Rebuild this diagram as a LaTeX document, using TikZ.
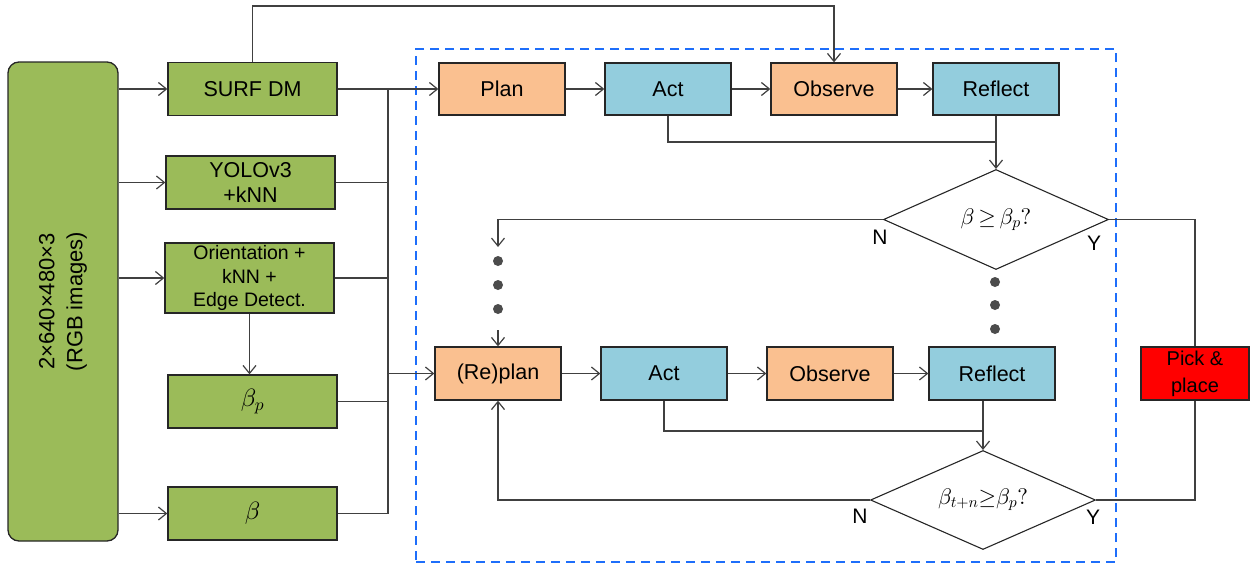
\documentclass[tikz,border=0pt]{standalone}
\usepackage{fontspec}
\setmainfont{Liberation Sans}
\usetikzlibrary{arrows.meta,shapes.geometric,calc}
% let the math fonts scale freely to the large node sizes
\DeclareFontFamily{OML}{cmm}{\skewchar\font127 }
\DeclareFontShape{OML}{cmm}{m}{it}{<->cmmi10}{}
\DeclareFontFamily{OMS}{cmsy}{\skewchar\font48 }
\DeclareFontShape{OMS}{cmsy}{m}{n}{<->cmsy10}{}
\DeclareFontFamily{OT1}{cmr}{\hyphenchar\font45 }
\DeclareFontShape{OT1}{cmr}{m}{n}{<->cmr10}{}

\definecolor{boxgreen}{HTML}{9BBB59}
\definecolor{boxpeach}{HTML}{FAC090}
\definecolor{boxblue}{HTML}{93CDDD}
\definecolor{boxred}{HTML}{FF0000}
\definecolor{frameblue}{RGB}{30,110,250}
\definecolor{wire}{HTML}{404040}

\begin{document}
\begin{tikzpicture}[x=1pt,y=-1pt,
  every node/.style={font=\fontsize{21.5}{25.7}\selectfont},
  blk/.style={draw=black!85, line width=1.3pt, minimum width=126pt, minimum height=52pt, inner sep=0pt, align=center},
  feat/.style={blk, fill=boxgreen, minimum width=169pt, minimum height=53pt},
  mathfeat/.style={feat, font=\fontsize{25}{28}\selectfont},
  peachbox/.style={blk, fill=boxpeach},
  cyanbox/.style={blk, fill=boxblue},
  decision/.style={diamond, aspect=2.25, draw=black!85, line width=1.1pt, inner sep=0pt, minimum width=225pt, minimum height=100pt, fill=white, font=\fontsize{22.5}{26}\selectfont},
  wireline/.style={draw=wire, line width=1.2pt},
  arr/.style={wireline, -{Straight Barb[length=8pt,width=13pt]}},
  dotmark/.style={circle, fill=black!70, inner sep=0pt, minimum size=10pt},
  yn/.style={font=\fontsize{21}{24}\selectfont}
]
\useasboundingbox (0,0) rectangle (1250,568);

% dashed frame around the plan/act/observe/reflect loop
\node[draw=frameblue, line width=2.2pt, dash pattern=on 9pt off 6pt, minimum width=700pt, minimum height=513pt, inner sep=0pt] (frame) at (766,305.5) {};

% input images
\node[draw=black!85, line width=1.3pt, fill=boxgreen, rounded corners=11pt, rotate=90,
      minimum width=479pt, minimum height=110pt, inner sep=0pt, align=center,
      font=\fontsize{22}{28}\selectfont] (img) at (63,301.5) {2×640×480×3\\(RGB images)};

% feature extraction column
\node[feat] (surf) at (252.5,89) {SURF DM};
\node[feat] (yolo) at (250.5,182.5) {YOLOv3\\+kNN};
\node[feat, minimum height=70pt, font=\fontsize{19.5}{23.3}\selectfont] (orient) at (249.5,278) {Orientation +\\kNN +\\Edge Detect.};
\node[mathfeat] (betap) at (252.5,401.5) {$\beta_p$};
\node[mathfeat] (beta) at (252.5,513.5) {$\beta$};

% first iteration
\node[peachbox] (plan) at (502,89) {Plan};
\node[cyanbox] (act) at (668,89) {Act};
\node[peachbox] (obs) at (834,89) {Observe};
\node[cyanbox] (refl) at (996,89) {Reflect};

% later iterations
\node[peachbox, minimum height=53pt] (replan) at (498,373.5) {(Re)plan};
\node[cyanbox, minimum height=53pt] (act2) at (664,373.5) {Act};
\node[peachbox, minimum height=53pt] (obs2) at (830,373.5) {Observe};
\node[cyanbox, minimum height=53pt] (refl2) at (992,373.5) {Reflect};

% decisions
\node[decision] (chk1) at (996,219.5) {$\beta\,{\geq}\,\beta_p?$};
\node[decision, minimum height=99pt] (chk2) at (983,500) {$\beta_{t+n}{\geq}\beta_p?$};

\node[blk, fill=boxred, minimum width=108pt, minimum height=53pt, font=\fontsize{20}{26.7}\selectfont] (pick) at (1195,373.5) {Pick \&\\place};

% ellipsis dots
\node[dotmark] (dl1) at (498,261) {};
\node[dotmark] (dl2) at (498,285) {};
\node[dotmark] (dl3) at (498,309) {};
\node[dotmark] (dr1) at (995,282) {};
\node[dotmark] (dr2) at (995,305) {};
\node[dotmark] (dr3) at (995,329) {};

% branch labels
\node[yn] (n1) at (880,237) {N};
\node[yn] (y1) at (1094,243) {Y};
\node[yn] (n2) at (860,516) {N};
\node[yn] (y2) at (1093,517) {Y};

% helper points
\coordinate (busTop) at (388,89);
\coordinate (busBot) at (388,513.5);
\coordinate (loopTop) at (540,6);
\coordinate (j1) at (996,142);
\coordinate (j2) at (983,431);
\coordinate (dTopL) at (498,247);
\coordinate (dBotL) at (498,330);

% inputs to feature boxes
\draw[arr] (img.south |- surf.west) -- (surf.west);
\draw[arr] (img.south |- yolo.west) -- (yolo.west);
\draw[arr] (img.south |- orient.west) -- (orient.west);
\draw[arr] (img.south |- beta.west) -- (beta.west);
\draw[arr] (orient.south) -- (orient.south |- betap.north);

% feature bus
\draw[wireline] (busTop) -- (busBot);
\draw[wireline] (yolo.east) -- (yolo.east -| busTop);
\draw[wireline] (orient.east) -- (orient.east -| busTop);
\draw[wireline] (betap.east) -- (betap.east -| busTop);
\draw[wireline] (beta.east) -- (busBot);
\draw[arr] (surf.east) -- (plan.west);
\draw[arr] (busTop |- replan.west) -- (replan.west);
\draw[arr] (surf.north) |- (loopTop) -| (obs.north);

% first iteration chain
\draw[arr] (plan.east) -- (act.west);
\draw[arr] (act.east) -- (obs.west);
\draw[arr] (obs.east) -- (refl.west);
\draw[wireline] (act.south) |- (j1);
\draw[arr] (refl.south) -- (chk1.north);

% later iteration chain
\draw[arr] (replan.east) -- (act2.west);
\draw[arr] (act2.east) -- (obs2.west);
\draw[arr] (obs2.east) -- (refl2.west);
\draw[wireline] (act2.south) |- (j2);
\draw[arr] (refl2.south -| chk2.north) -- (chk2.north);

% decision branches
\draw[arr] (chk1.west) -| (dTopL);
\draw[arr] (dBotL) -- (replan.north);
\draw[arr] (chk2.west) -| (replan.south);
\draw[wireline] (chk1.east) -| (pick.north);
\draw[wireline] (chk2.east) -| (pick.south);
\end{tikzpicture}
\end{document}
